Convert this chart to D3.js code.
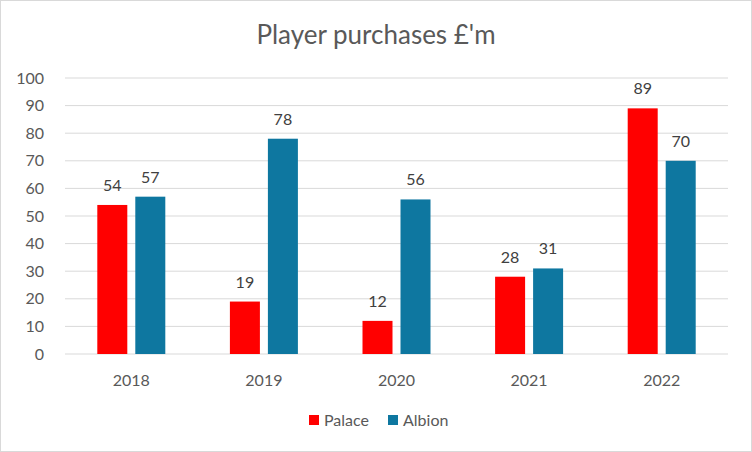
<!DOCTYPE html>
<html>
<head>
<meta charset="utf-8">
<script src="https://cdn.jsdelivr.net/npm/d3@7"></script>
<style>
  body { margin: 0; background: #fff; }
  svg { display: block; font-family: Lato, "Open Sans", sans-serif; }
</style>
</head>
<body>
<svg width="752" height="452"></svg>
<script>
const years = ["2018", "2019", "2020", "2021", "2022"];
const palace = [54, 19, 12, 28, 89];
const albion = [57, 78, 56, 31, 70];
const seriesNames = ["Palace", "Albion"];
const yTicks = [0, 10, 20, 30, 40, 50, 60, 70, 80, 90, 100];

const colors = ["#FF0000", "#0E77A0"];
const svg = d3.select("svg");
const width = 752;
const height = 452;
const margin = { top: 78, right: 24, bottom: 98, left: 65 };

// outer border
svg.append("rect")
  .attr("x", 0.5).attr("y", 0.5)
  .attr("width", width - 1).attr("height", height - 1)
  .attr("fill", "#fff")
  .attr("stroke", "#d9d9d9");

svg.append("text")
  .attr("x", 376)
  .attr("y", 44)
  .attr("text-anchor", "middle")
  .attr("font-size", "26px")
  .attr("fill", "#595959")
  .text("Player purchases £'m");

const x = d3.scaleBand()
  .domain(years)
  .range([margin.left, width - margin.right]);

const y = d3.scaleLinear()
  .domain([0, 100])
  .range([height - margin.bottom, margin.top]);

// gridlines
svg.append("g")
  .selectAll("line")
  .data(yTicks)
  .join("line")
  .attr("x1", margin.left)
  .attr("x2", width - margin.right)
  .attr("y1", d => y(d))
  .attr("y2", d => y(d))
  .attr("stroke", "#d9d9d9")
  .attr("stroke-width", 1);

// y labels
svg.append("g")
  .selectAll("text")
  .data(yTicks)
  .join("text")
  .attr("x", 44)
  .attr("y", d => y(d) + 5.5)
  .attr("text-anchor", "end")
  .attr("font-size", "16px")
  .attr("fill", "#595959")
  .text(d => d);

// x labels
svg.append("g")
  .selectAll("text")
  .data(years)
  .join("text")
  .attr("x", d => x(d) + x.bandwidth() / 2)
  .attr("y", 386)
  .attr("text-anchor", "middle")
  .attr("font-size", "16px")
  .attr("fill", "#595959")
  .text(d => d);

const barW = 30;
const gap = 8;
const rows = [];
years.forEach((yr, i) => {
  rows.push({ year: yr, s: 0, v: palace[i] });
  rows.push({ year: yr, s: 1, v: albion[i] });
});

const barX = d => x(d.year) + x.bandwidth() / 2 + (d.s === 0 ? -gap / 2 - barW : gap / 2);

svg.append("g")
  .selectAll("rect")
  .data(rows)
  .join("rect")
  .attr("x", barX)
  .attr("width", barW)
  .attr("y", d => y(d.v))
  .attr("height", d => y(0) - y(d.v))
  .attr("fill", d => colors[d.s]);

// data labels
svg.append("g")
  .selectAll("text")
  .data(rows)
  .join("text")
  .attr("x", d => barX(d) + barW / 2)
  .attr("y", d => y(d.v) - 14)
  .attr("text-anchor", "middle")
  .attr("font-size", "16px")
  .attr("fill", "#404040")
  .text(d => Math.round(d.v));

// legend
const legendX = [309, 388];
const legend = svg.append("g")
  .selectAll("g")
  .data(seriesNames)
  .join("g")
  .attr("transform", (d, i) => `translate(${legendX[i]}, 415)`);

legend.append("rect")
  .attr("width", 10).attr("height", 10)
  .attr("fill", (d, i) => colors[i]);

legend.append("text")
  .attr("x", 15)
  .attr("y", 10.5)
  .attr("font-size", "16px")
  .attr("fill", "#595959")
  .text(d => d);
</script>
</body>
</html>
